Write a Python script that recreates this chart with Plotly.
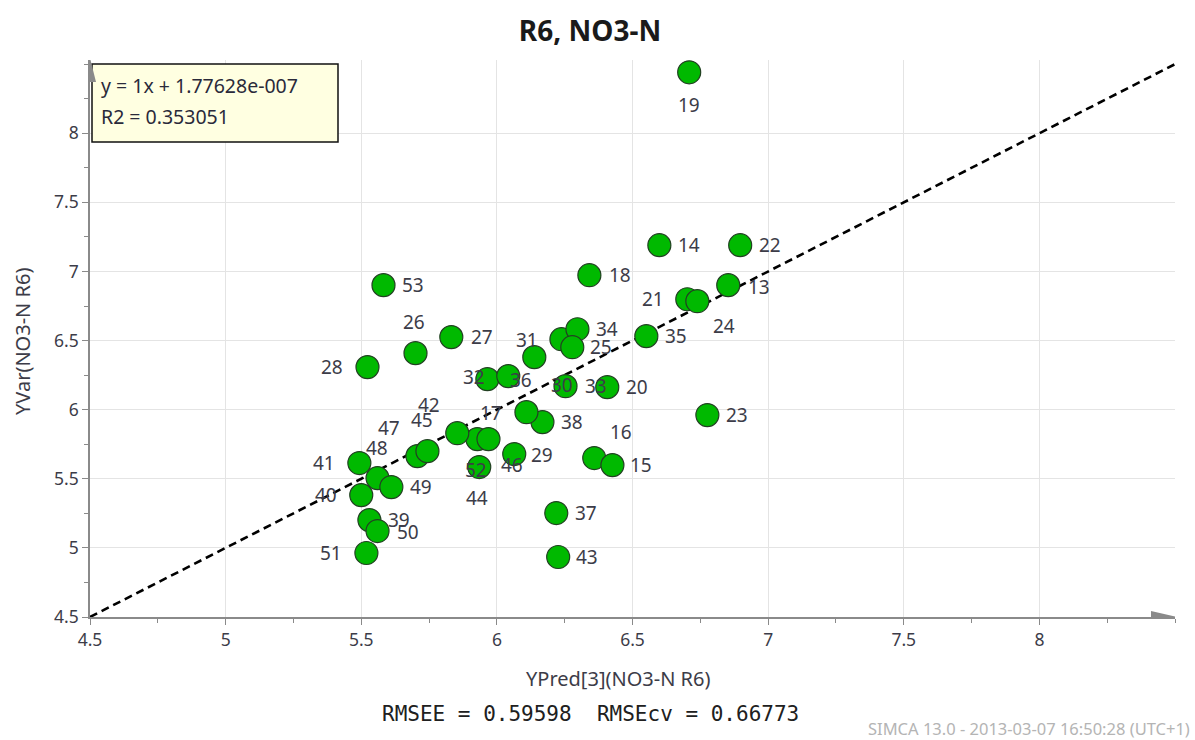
import plotly.graph_objects as go

# ---- data ----
obs = [19, 14, 22, 18, 53, 13, 21, 24, 35, 27, 26, 28, 31, 30, 34, 25, 33, 32, 36, 20,
       23, 16, 15, 37, 43, 38, 17, 52, 46, 44, 29, 42, 47, 45, 48, 41, 49, 40, 39, 50, 51]
ypred = [6.709, 6.599, 6.897, 6.341, 5.582, 6.853, 6.702, 6.739, 6.551, 5.832, 5.700, 5.523,
         6.138, 6.238, 6.297, 6.278, 6.253, 5.965, 6.042, 6.407, 6.776, 6.359, 6.426, 6.219,
         6.226, 6.168, 6.109, 5.928, 5.969, 5.935, 6.064, 5.854, 5.707, 5.744, 5.560, 5.493,
         5.611, 5.500, 5.530, 5.560, 5.519]
yvar = [8.441, 7.190, 7.190, 6.973, 6.901, 6.901, 6.799, 6.785, 6.532, 6.525, 6.409, 6.308,
        6.380, 6.510, 6.582, 6.452, 6.170, 6.221, 6.243, 6.163, 5.961, 5.650, 5.599, 5.252,
        4.934, 5.910, 5.982, 5.787, 5.787, 5.585, 5.679, 5.830, 5.664, 5.700, 5.505, 5.614,
        5.440, 5.382, 5.201, 5.122, 4.963]
slope = 1.0
intercept = 1.77628e-007
r2 = 0.353051
rmsee = 0.59598
rmsecv = 0.66773
x_ticks = [4.5, 5, 5.5, 6, 6.5, 7, 7.5, 8]
y_ticks = [4.5, 5, 5.5, 6, 6.5, 7, 7.5, 8]

# ---- styling ----
XR = [4.5, 8.5]
YR = [4.5, 8.53]
FONT = "Noto Sans"
TXT = "#3c3c48"
# label offsets in pixels (dx right, dy down) relative to each point
label_offsets = {
    19: (0, 33), 14: (30, 0), 22: (30, 0), 18: (31, 0), 53: (30, 0), 13: (31, 2),
    21: (-34, 0), 24: (27, 25), 35: (30, 0), 27: (31, 0), 26: (-2, -31), 28: (-35, 0),
    31: (-7, -17), 34: (30, 0), 25: (29, 0), 30: (1, 46), 33: (30, 0), 32: (-13, -2),
    36: (13, 4), 20: (30, 0), 23: (30, 0), 16: (27, -26), 15: (29, 0), 37: (30, 0),
    43: (29, 0), 38: (30, 0), 17: (-35, 1), 52: (-1, 31), 46: (24, 26), 44: (-2, 31),
    29: (28, 1), 42: (-28, -28), 47: (-28, -28), 45: (-5, -31), 48: (-1, -30),
    41: (-35, 0), 49: (30, 0), 40: (-35, 0), 39: (30, 0), 50: (30, 1), 51: (-35, 0),
}

fig = go.Figure()

# regression line y = slope*x + intercept across the axis range
fig.add_trace(go.Scatter(
    x=XR, y=[slope * v + intercept for v in XR], mode="lines",
    line=dict(color="black", width=2.6, dash="8px,5px"),
    hoverinfo="skip", showlegend=False, cliponaxis=False))

fig.add_trace(go.Scatter(
    x=ypred, y=yvar, mode="markers", text=[str(o) for o in obs],
    marker=dict(size=23, color="#00b900",
                line=dict(color="#224022", width=1.2)),
    showlegend=False, cliponaxis=False))

annotations = []
for o, xv, yv in zip(obs, ypred, yvar):
    dx, dy = label_offsets[o]
    annotations.append(dict(
        x=xv, y=yv, xref="x", yref="y", text=str(o), showarrow=False,
        xshift=dx, yshift=-dy, xanchor="center", yanchor="middle",
        font=dict(family=FONT, size=19, color=TXT)))

# equation box text
eq = f"y = {slope:g}x + {intercept:.5e}".replace("e-07", "e-007")
annotations.append(dict(
    xref="paper", yref="paper", x=(99 - 90) / 1085, y=(617 - 85) / 557,
    xanchor="left", yanchor="middle", showarrow=False, text=eq,
    font=dict(family=FONT, size=19.5, color="#2a2a3a")))
annotations.append(dict(
    xref="paper", yref="paper", x=(99 - 90) / 1085, y=(617 - 116) / 557,
    xanchor="left", yanchor="middle", showarrow=False, text=f"R2 = {r2}",
    font=dict(family=FONT, size=19.5, color="#2a2a3a")))

# axis titles
annotations.append(dict(
    xref="paper", yref="paper", x=(618 - 90) / 1085, y=(617 - 678) / 557,
    xanchor="center", yanchor="middle", showarrow=False,
    text="YPred[3](NO3-N R6)", font=dict(family=FONT, size=20, color=TXT)))
annotations.append(dict(
    xref="paper", yref="paper", x=(22 - 90) / 1085, y=(617 - 342) / 557,
    xanchor="center", yanchor="middle", showarrow=False, textangle=-90,
    text="YVar(NO3-N R6)", font=dict(family=FONT, size=20, color=TXT)))
# RMSE line
annotations.append(dict(
    xref="paper", yref="paper", x=(590 - 90) / 1085, y=(617 - 714) / 557,
    xanchor="center", yanchor="middle", showarrow=False,
    text=f"RMSEE = {rmsee}  RMSEcv = {rmsecv}",
    font=dict(family="DejaVu Sans Mono", size=21, color="#202020")))
# watermark
annotations.append(dict(
    xref="paper", yref="paper", x=(1192 - 90) / 1085, y=(617 - 728) / 557,
    xanchor="right", yanchor="middle", showarrow=False,
    text="SIMCA 13.0 - 2013-03-07 16:50:28 (UTC+1)",
    font=dict(family=FONT, size=16.5, color="#b4b4b4")))

shapes = [
    # equation box
    dict(type="rect", xref="paper", yref="paper",
         x0=(92 - 90) / 1085, x1=(338 - 90) / 1085,
         y0=(617 - 142) / 557, y1=(617 - 64) / 557,
         fillcolor="#ffffe1", line=dict(color="#111111", width=1.5), layer="above"),
    # x-axis arrow
    dict(type="path", xref="x", yref="y", xsizemode="pixel", ysizemode="pixel",
         xanchor=XR[1], yanchor=YR[0], path="M -24,-6 L 2,0 L -24,6 Z",
         fillcolor="#8a8a8a", line=dict(width=0), layer="above"),
    # y-axis arrow
    dict(type="path", xref="x", yref="y", xsizemode="pixel", ysizemode="pixel",
         xanchor=XR[0], yanchor=YR[1], path="M -6,-22 L 0,2 L 6,-22 Z",
         fillcolor="#8a8a8a", line=dict(width=0), layer="above"),
]

axis_common = dict(
    showgrid=True, gridcolor="#e4e4e4", gridwidth=1,
    showline=True, linecolor="#8a8a8a", linewidth=1.5,
    ticks="outside", ticklen=6, tickcolor="#8a8a8a", tickwidth=1,
    tickfont=dict(family=FONT, size=17.5, color=TXT),
    zeroline=False, automargin=False,
    minor=dict(dtick=0.25, ticks="outside", ticklen=4, tickcolor="#8a8a8a", showgrid=False),
)

fig.update_layout(
    width=1195, height=740,
    margin=dict(l=90, r=20, t=60, b=123, pad=0),
    paper_bgcolor="white", plot_bgcolor="white",
    title=dict(text="<b>R6, NO3-N</b>", x=590 / 1195, xanchor="center",
               y=1 - 31 / 740, yanchor="middle", xref="container", yref="container",
               font=dict(family=FONT, size=28, color="#1a1a1a")),
    xaxis=dict(range=XR, tickvals=x_ticks, **axis_common),
    yaxis=dict(range=YR, tickvals=y_ticks, **axis_common),
    annotations=annotations, shapes=shapes,
    hovermode="closest",
)

fig.write_html("out.html")
